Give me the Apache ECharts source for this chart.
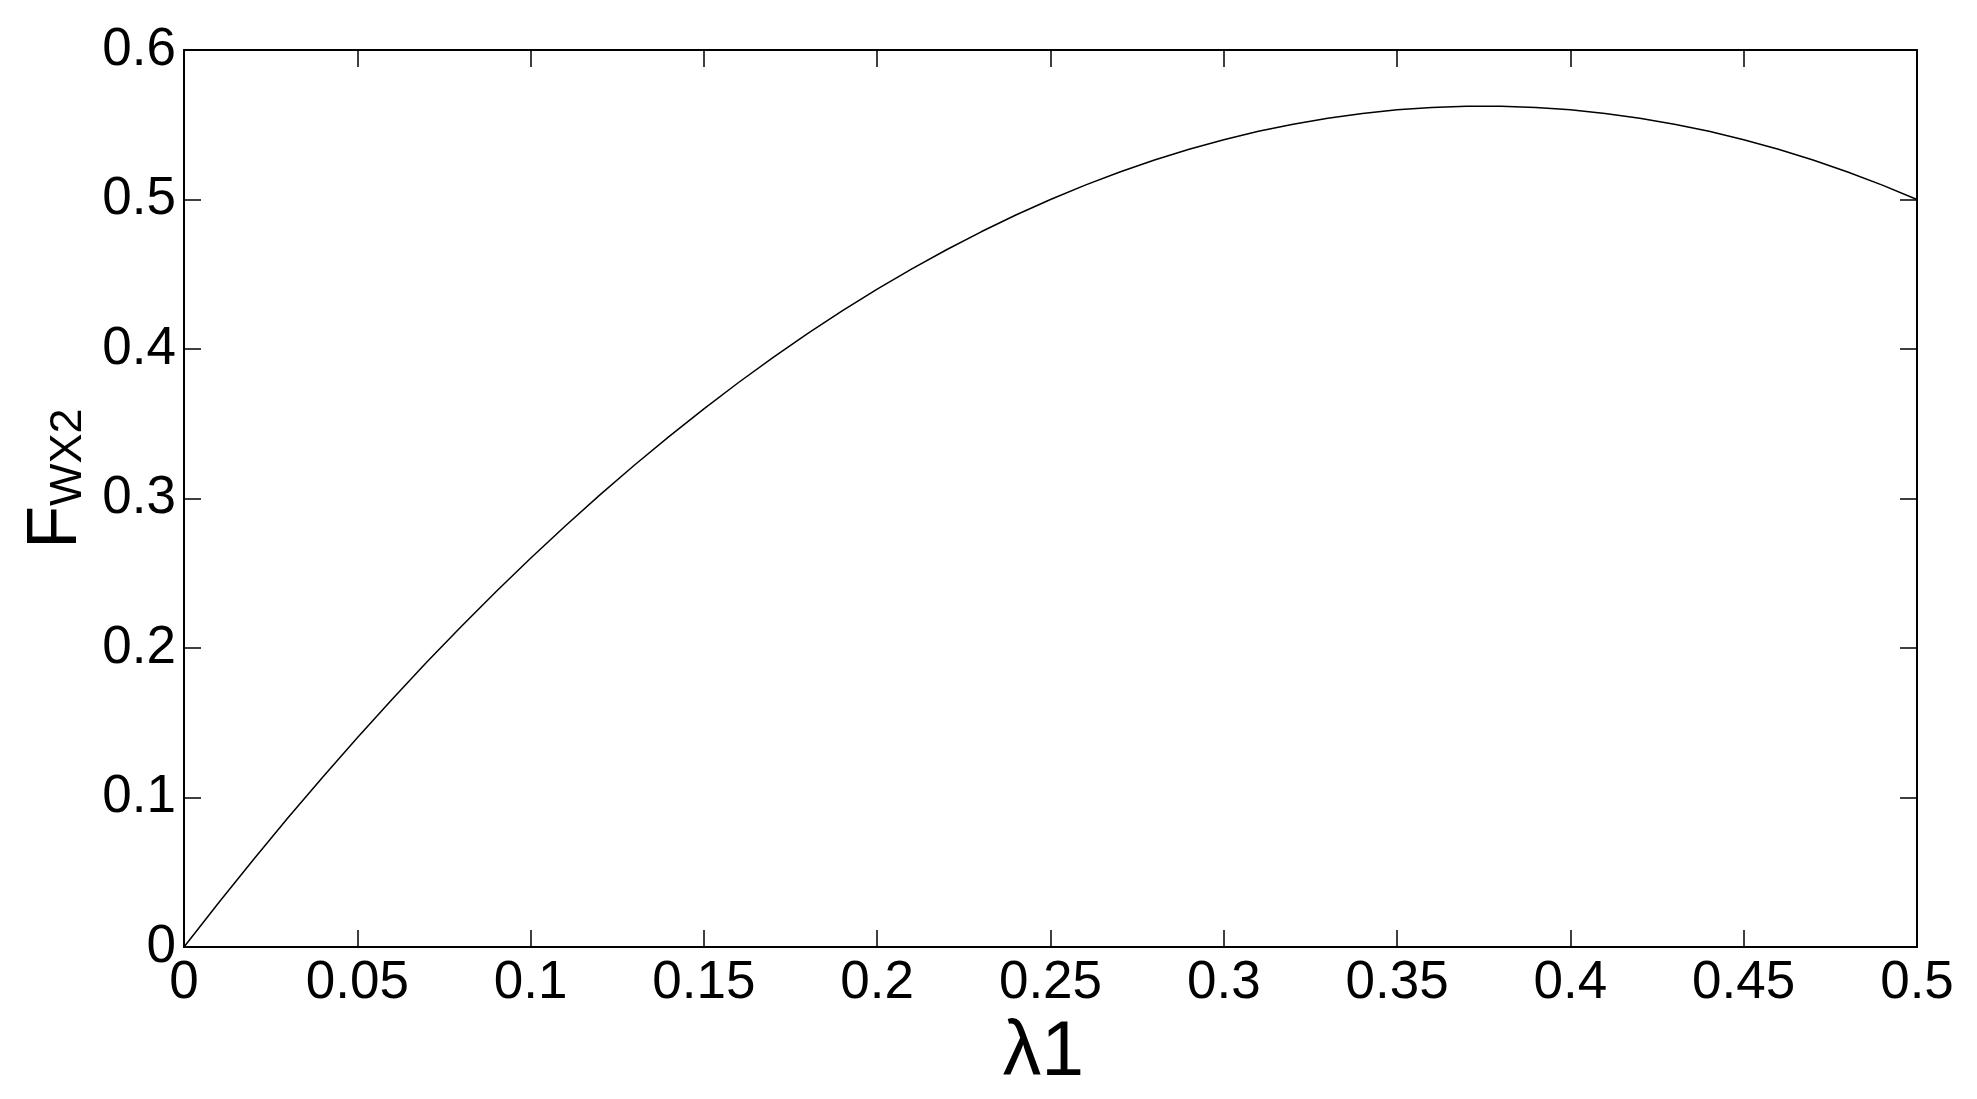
<!DOCTYPE html>
<html>
<head>
<meta charset="utf-8">
<title>F_WX2 vs λ1</title>
<script src="https://cdn.jsdelivr.net/npm/echarts@6/dist/echarts.min.js"></script>
<style>
  html, body { margin: 0; padding: 0; background: #fff; }
  #chart { width: 1977px; height: 1099px; }
</style>
</head>
<body>
<div id="chart"></div>
<script>
// 横轴 λ1
var lambdaVals = [0, 0.01, 0.02, 0.03, 0.04, 0.05, 0.06, 0.07, 0.08, 0.09,
  0.10, 0.11, 0.12, 0.13, 0.14, 0.15, 0.16, 0.17, 0.18, 0.19,
  0.20, 0.21, 0.22, 0.23, 0.24, 0.25, 0.26, 0.27, 0.28, 0.29,
  0.30, 0.31, 0.32, 0.33, 0.34, 0.35, 0.36, 0.37, 0.38, 0.39,
  0.40, 0.41, 0.42, 0.43, 0.44, 0.45, 0.46, 0.47, 0.48, 0.49, 0.50];
// 纵轴 F_WX2
var fwx2Vals = [0, 0.0296, 0.0584, 0.0864, 0.1136, 0.140, 0.1656, 0.1904, 0.2144, 0.2376,
  0.260, 0.2816, 0.3024, 0.3224, 0.3416, 0.360, 0.3776, 0.3944, 0.4104, 0.4256,
  0.440, 0.4536, 0.4664, 0.4784, 0.4896, 0.500, 0.5096, 0.5184, 0.5264, 0.5336,
  0.540, 0.5456, 0.5504, 0.5544, 0.5576, 0.560, 0.5616, 0.5624, 0.5624, 0.5616,
  0.560, 0.5576, 0.5544, 0.5504, 0.5456, 0.540, 0.5336, 0.5264, 0.5184, 0.5096, 0.500];
// 刻度标签
var xTickLabels = ['0', '0.05', '0.1', '0.15', '0.2', '0.25', '0.3', '0.35', '0.4', '0.45', '0.5'];
var yTickLabels = ['0', '0.1', '0.2', '0.3', '0.4', '0.5', '0.6'];

var font = 'Liberation Sans, Arial, sans-serif';

var lineData = [];
for (let i = 0; i < lambdaVals.length; i++) {
  lineData.push([lambdaVals[i], fwx2Vals[i]]);
}

// 上边和右边的框线（只画刻度，不要标签）
function boxAxis(pos, isX) {
  return {
    type: 'value',
    position: pos,
    min: 0,
    max: isX ? 0.5 : 0.6,
    interval: isX ? 0.05 : 0.1,
    axisLine: { show: true, onZero: false, lineStyle: { color: '#000', width: 2 } },
    axisTick: { show: true, inside: true, length: 17, lineStyle: { color: '#000', width: 1.5 } },
    axisLabel: { show: false },
    splitLine: { show: false }
  };
}

var myChart = echarts.init(document.getElementById('chart'));
var option = {
  backgroundColor: '#fff',
  animation: false,
  grid: { left: 184, right: 60, top: 50, bottom: 152 },
  xAxis: [{
    type: 'value',
    position: 'bottom',
    min: 0,
    max: 0.5,
    interval: 0.05,
    name: 'λ1',
    nameLocation: 'middle',
    nameGap: 62,
    nameTextStyle: { fontFamily: font, fontSize: 77, color: '#000', padding: [0, 14, 0, 0] },
    axisLine: { show: true, onZero: false, lineStyle: { color: '#000', width: 2 } },
    axisTick: { show: true, inside: true, length: 17, lineStyle: { color: '#000', width: 1.5 } },
    axisLabel: {
      margin: 10,
      fontFamily: font,
      fontSize: 53,
      color: '#000',
      formatter: function (v) { return xTickLabels[Math.round(v / 0.05)]; }
    },
    splitLine: { show: false }
  }, boxAxis('top', true)],
  yAxis: [{
    type: 'value',
    position: 'left',
    min: 0,
    max: 0.6,
    interval: 0.1,
    name: '{f|F}{s|WX2}',
    nameLocation: 'middle',
    nameGap: 92,
    nameTextStyle: {
      color: '#000',
      rich: {
        f: { fontFamily: font, fontSize: 70, color: '#000', padding: [0, 0, 0, 40] },
        s: { fontFamily: font, fontSize: 45, color: '#000', verticalAlign: 'bottom' }
      }
    },
    axisLine: { show: true, onZero: false, lineStyle: { color: '#000', width: 2 } },
    axisTick: { show: true, inside: true, length: 17, lineStyle: { color: '#000', width: 1.5 } },
    axisLabel: {
      margin: 8,
      fontFamily: font,
      fontSize: 53,
      color: '#000',
      formatter: function (v) { return yTickLabels[Math.round(v / 0.1)]; }
    },
    splitLine: { show: false }
  }, boxAxis('right', false)],
  series: [{
    type: 'line',
    xAxisIndex: 0,
    yAxisIndex: 0,
    data: lineData,
    showSymbol: false,
    smooth: false,
    lineStyle: { color: '#000', width: 1.5 },
    itemStyle: { color: '#000' }
  }]
};
myChart.setOption(option);
</script>
</body>
</html>
